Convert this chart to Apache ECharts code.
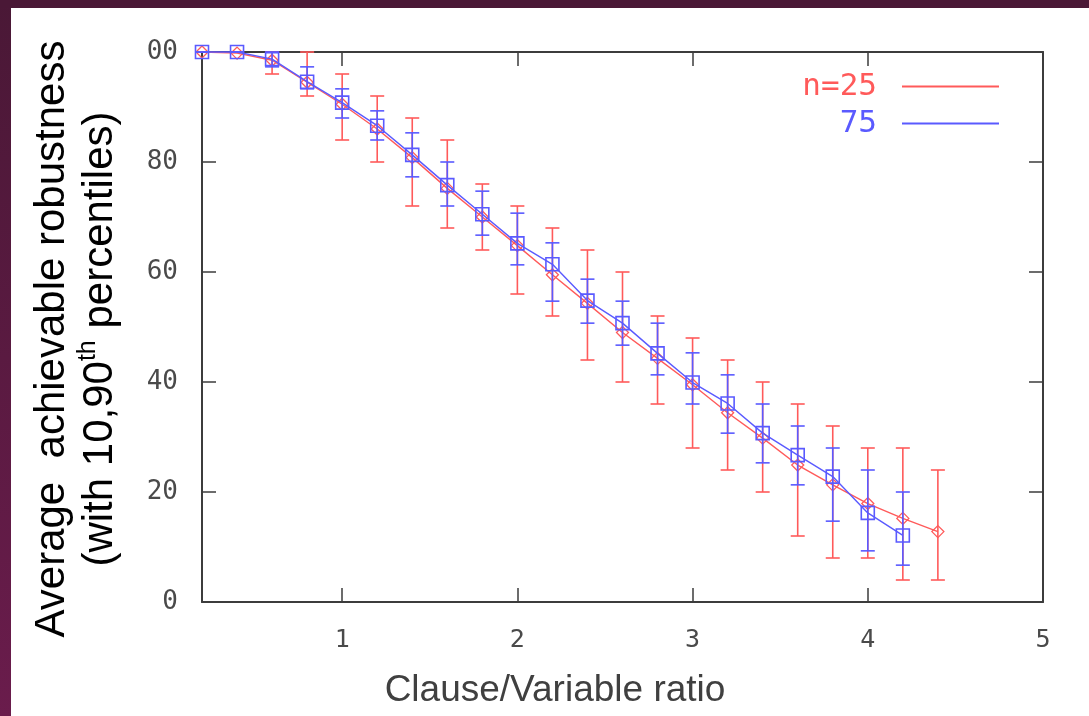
<!DOCTYPE html>
<html>
<head>
<meta charset="utf-8">
<script src="https://cdn.jsdelivr.net/npm/echarts@6/dist/echarts.min.js"></script>
<style>
  html, body { margin: 0; padding: 0; background: #ffffff; }
  #chart { width: 1089px; height: 716px; }
</style>
</head>
<body>
<div id="chart"></div>
<script>
// ---- data ----
const ratios = [0.2, 0.4, 0.6, 0.8, 1.0, 1.2, 1.4, 1.6, 1.8, 2.0, 2.2, 2.4, 2.6, 2.8, 3.0, 3.2, 3.4, 3.6, 3.8, 4.0, 4.2, 4.4];

// n = 25
const n25Mean = [100, 99.8, 98.5, 94.5, 90.5, 86, 80.8, 75.2, 70, 64.8, 59.5, 54.3, 49, 44.3, 39.5, 34.4, 29.8, 24.9, 21.3, 17.9, 15.2, 12.8];
const n25P10  = [100, 100, 96, 92, 84, 80, 72, 68, 64, 56, 52, 44, 40, 36, 28, 24, 20, 12, 8, 8, 4, 4];
const n25P90  = [100, 100, 100, 100, 96, 92, 88, 84, 76, 72, 68, 64, 60, 52, 48, 44, 40, 36, 32, 28, 28, 24];

// n = 75
const n75Mean = [100, 100, 98.7, 94.6, 90.8, 86.6, 81.3, 75.8, 70.5, 65.2, 61.4, 54.8, 50.7, 45.2, 39.9, 36.1, 30.7, 26.7, 22.8, 16.2, 12.1];
const n75P10  = [100, 100, 97.3, 93.3, 88, 84, 77.3, 72, 66.7, 61.3, 54.7, 50.7, 46.7, 41.3, 36, 30.7, 25.3, 21.3, 14.7, 9.3, 6.7];
const n75P90  = [100, 100, 100, 97.3, 93.3, 89.3, 85.3, 80, 74.7, 70.7, 65.3, 58.7, 54.7, 50.7, 45.3, 41.3, 36, 32, 28, 24, 20];

const seriesNames = ['n=25', '75'];
const xTickLabels = [1, 2, 3, 4, 5];
const xTickMarks = [1, 2, 3, 4];
const xTitle = 'Clause/Variable ratio';

// ---- styling ----
const RED = '#ff5a5a';
const BLUE = '#5a5aff';
const AXIS = '#3c3c3c';
const TEXT = '#404040';
const MONO = '"DejaVu Sans Mono", "Liberation Mono", monospace';
const SANS = '"Liberation Sans", Arial, sans-serif';

function meanData(means) { return means.map((v, i) => [ratios[i], v]); }
function barData(lo, hi) { return lo.map((v, i) => [ratios[i], v, hi[i]]); }

function errorBars(color) {
  return function (params, api) {
    const x = api.value(0);
    const p1 = api.coord([x, api.value(2)]);
    const p2 = api.coord([x, api.value(1)]);
    const w = 7;
    const st = { stroke: color, lineWidth: 1.6 };
    return {
      type: 'group',
      children: [
        { type: 'line', shape: { x1: p1[0], y1: p1[1], x2: p2[0], y2: p2[1] }, style: st },
        { type: 'line', shape: { x1: p1[0] - w, y1: p1[1], x2: p1[0] + w, y2: p1[1] }, style: st },
        { type: 'line', shape: { x1: p2[0] - w, y1: p2[1], x2: p2[0] + w, y2: p2[1] }, style: st }
      ]
    };
  };
}

const chart = echarts.init(document.getElementById('chart'), null, { renderer: 'canvas' });

const option = {
  backgroundColor: '#ffffff',
  animation: false,
  grid: { left: 202, right: 46, top: 52, bottom: 114, containLabel: false },
  legend: {
    orient: 'vertical',
    right: 85,
    top: 66,
    align: 'right',
    icon: 'rect',
    itemWidth: 97,
    itemHeight: 2,
    itemGap: 6,
    selectedMode: false,
    textStyle: { fontFamily: MONO, fontSize: 31, padding: [0, 20, 0, 0] },
    data: [
      { name: seriesNames[0], itemStyle: { color: RED, borderWidth: 0 }, textStyle: { color: RED } },
      { name: seriesNames[1], itemStyle: { color: BLUE, borderWidth: 0 }, textStyle: { color: BLUE } }
    ]
  },
  xAxis: [
    {
      type: 'value', min: 0.2, max: 5, position: 'bottom',
      axisLine: { show: true, onZero: false, lineStyle: { color: AXIS, width: 2 } },
      axisTick: { show: true, inside: true, length: 14, customValues: xTickMarks, lineStyle: { color: AXIS, width: 1.5 } },
      axisLabel: { customValues: xTickLabels, margin: 26, fontFamily: MONO, fontSize: 25, color: '#4a4a4a' },
      splitLine: { show: false }
    },
    {
      type: 'value', min: 0.2, max: 5, position: 'top',
      axisLine: { show: true, onZero: false, lineStyle: { color: AXIS, width: 2 } },
      axisTick: { show: true, inside: true, length: 14, customValues: xTickMarks, lineStyle: { color: AXIS, width: 1.5 } },
      axisLabel: { show: false },
      splitLine: { show: false }
    }
  ],
  yAxis: [
    {
      type: 'value', min: 0, max: 100, interval: 20, position: 'left',
      axisLine: { show: true, onZero: false, lineStyle: { color: AXIS, width: 2 } },
      axisTick: { show: true, inside: true, length: 14, lineStyle: { color: AXIS, width: 1.5 } },
      axisLabel: {
        margin: 24, fontFamily: MONO, fontSize: 26, color: '#4a4a4a',
        formatter: function (v) { return v === 100 ? '00' : String(v); }
      },
      splitLine: { show: false }
    },
    {
      type: 'value', min: 0, max: 100, interval: 20, position: 'right',
      axisLine: { show: true, onZero: false, lineStyle: { color: AXIS, width: 2 } },
      axisTick: { show: true, inside: true, length: 14, lineStyle: { color: AXIS, width: 1.5 } },
      axisLabel: { show: false },
      splitLine: { show: false }
    }
  ],
  series: [
    {
      name: seriesNames[0] + ' bars', type: 'custom', xAxisIndex: 0, yAxisIndex: 0,
      renderItem: errorBars(RED), encode: { x: 0, y: [1, 2] },
      data: barData(n25P10, n25P90), clip: false, z: 2, silent: true
    },
    {
      name: seriesNames[0], type: 'line', xAxisIndex: 0, yAxisIndex: 0,
      data: meanData(n25Mean),
      symbol: 'diamond', symbolSize: 12, showAllSymbol: true, clip: false,
      lineStyle: { color: RED, width: 1.4 },
      itemStyle: { color: 'rgba(0,0,0,0)', borderColor: RED, borderWidth: 1.3 },
      z: 3
    },
    {
      name: seriesNames[1] + ' bars', type: 'custom', xAxisIndex: 0, yAxisIndex: 0,
      renderItem: errorBars(BLUE), encode: { x: 0, y: [1, 2] },
      data: barData(n75P10, n75P90), clip: false, z: 4, silent: true
    },
    {
      name: seriesNames[1], type: 'line', xAxisIndex: 0, yAxisIndex: 0,
      data: meanData(n75Mean),
      symbol: 'rect', symbolSize: 13, showAllSymbol: true, clip: false,
      lineStyle: { color: BLUE, width: 1.4 },
      itemStyle: { color: 'rgba(0,0,0,0)', borderColor: BLUE, borderWidth: 1.6 },
      z: 5
    }
  ],
  graphic: [
    {
      type: 'rect', left: 0, top: 0, z: 100, silent: true,
      shape: { width: 11, height: 716 },
      style: { fill: new echarts.graphic.LinearGradient(0, 0, 0, 1, [
        { offset: 0, color: '#4a1836' }, { offset: 1, color: '#6a1c4c' }
      ]) }
    },
    {
      type: 'rect', left: 0, top: 0, z: 100, silent: true,
      shape: { width: 1089, height: 8 },
      style: { fill: '#4a1836' }
    },
    {
      type: 'text', x: 76, y: 339, rotation: Math.PI / 2, silent: true,
      style: {
        text: '{a|Average  achievable robustness}\n{a|(with 10,90}{s|th}{a| percentiles)}',
        align: 'center', verticalAlign: 'middle',
        rich: {
          a: { fontFamily: SANS, fontSize: 42, lineHeight: 48, color: TEXT },
          s: { fontFamily: SANS, fontSize: 25, lineHeight: 26, color: TEXT, verticalAlign: 'top' }
        }
      }
    },
    {
      type: 'text', x: 555, y: 691, silent: true,
      style: {
        text: xTitle, align: 'center', verticalAlign: 'middle',
        fontFamily: SANS, fontSize: 37, fill: TEXT
      }
    }
  ]
};

chart.setOption(option);
</script>
</body>
</html>
